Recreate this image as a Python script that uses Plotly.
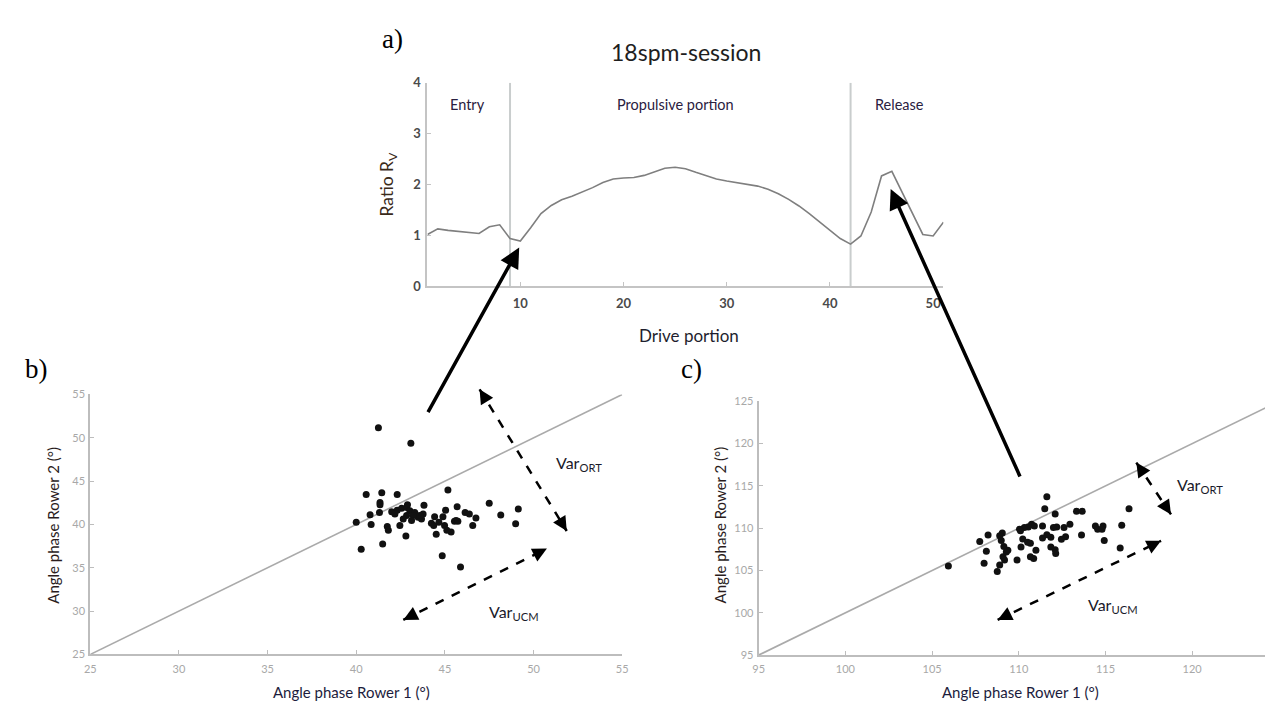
import math
import plotly.graph_objects as go

W, H = 1273, 702

# ---------------- data ----------------
# panel a: ratio R_V along the drive portion (18 spm session)
drive_portion = list(range(1, 52))
ratio_rv = [1.02, 1.13, 1.10, 1.08, 1.05, 1.04, 1.17, 1.21, 0.94, 0.89,
            1.15, 1.43, 1.59, 1.70, 1.77, 1.85, 1.94, 2.04, 2.11, 2.13,
            2.14, 2.18, 2.25, 2.32, 2.34, 2.31, 2.24, 2.17, 2.11, 2.07,
            2.04, 2.01, 1.97, 1.91, 1.82, 1.71, 1.58, 1.43, 1.27, 1.11,
            0.94, 0.83, 0.99, 1.46, 2.17, 2.26, 1.84, 1.42, 1.02, 0.99,
            1.26]
phase_bounds = [9, 42]
phase_names = ["Entry", "Propulsive portion", "Release"]
phase_label_x = [4.9, 25.0, 46.7]
phase_label_y = 3.57

# panel b: angle phase rower 1 vs rower 2 (first instant)
rower1_b = [41.25, 43.08, 40.56, 41.44, 42.31, 45.17, 41.34, 41.34, 42.89, 43.82,
            45.69, 47.50, 49.14, 40.78, 41.31, 42.00, 42.31, 42.56, 42.84, 43.02,
            43.30, 43.49, 43.68, 43.21, 42.84, 42.65, 42.46, 43.12, 44.42, 45.04,
            44.89, 44.66, 44.98, 45.35, 45.63, 45.54, 46.14, 46.38, 46.75, 46.57,
            48.15, 48.99, 40.00, 40.84, 41.75, 41.81, 42.80, 44.51, 41.49, 40.28,
            44.85, 45.88, 44.24, 44.37, 45.11, 45.73, 42.18, 43.77, 43.58]
rower2_b = [51.17, 49.36, 43.46, 43.65, 43.46, 43.98, 42.52, 42.26, 42.26, 42.22,
            42.03, 42.44, 41.77, 41.13, 41.39, 41.47, 41.65, 41.88, 41.95, 41.58,
            41.39, 40.83, 40.64, 41.02, 41.02, 40.64, 39.89, 40.45, 40.90, 41.65,
            40.90, 40.26, 39.89, 39.14, 40.45, 40.38, 41.39, 41.20, 40.75, 39.89,
            41.09, 40.08, 40.26, 40.00, 39.77, 39.32, 38.68, 38.87, 37.74, 37.14,
            36.39, 35.08, 40.15, 39.89, 39.32, 40.38, 41.20, 41.20, 41.02]

# panel c: angle phase rower 1 vs rower 2 (second instant)
rower1_c = [105.94, 111.62, 111.50, 112.10, 113.33, 113.66, 116.36, 115.94, 114.42, 114.55,
            114.86, 114.80, 114.93, 115.85, 113.62, 112.95, 112.61, 112.19, 112.00, 112.70,
            112.46, 111.85, 111.37, 111.62, 111.85, 112.10, 112.13, 110.74, 110.90, 110.55,
            110.32, 110.04, 110.10, 110.23, 110.51, 110.67, 110.13, 110.99, 110.67, 110.86,
            109.90, 109.37, 109.14, 108.99, 109.05, 108.90, 108.23, 107.75, 108.13, 108.00,
            109.18, 109.09, 108.90, 108.76, 109.28, 111.37]
rower2_c = [105.54, 113.73, 112.31, 111.69, 112.00, 112.00, 112.31, 110.35, 110.27, 109.88,
            110.27, 109.88, 108.54, 107.65, 109.19, 110.46, 110.08, 110.15, 110.08, 109.00,
            108.69, 108.92, 108.85, 109.23, 107.77, 107.46, 107.00, 110.46, 110.27, 110.15,
            110.08, 109.88, 109.69, 108.73, 108.35, 108.23, 107.77, 107.38, 106.62, 106.42,
            106.23, 107.38, 107.85, 108.54, 109.42, 109.12, 109.19, 108.42, 107.27, 105.85,
            106.23, 106.62, 105.65, 104.88, 107.19, 110.27]

range_a_x = [1, 51]
range_a_y = [0, 4]
range_b = [25, 55]
range_c = [95, 125]
ticks_a_x = [10, 20, 30, 40, 50]
ticks_a_y = [0, 1, 2, 3, 4]
ticks_b = [25, 30, 35, 40, 45, 50, 55]
ticks_c = [95, 100, 105, 110, 115, 120, 125]

# ---------------- helpers ----------------
def px(x, y):
    return x / W, 1 - y / H

FONT = "Lato"
fig = go.Figure()

# panel a
for b in phase_bounds:
    fig.add_trace(go.Scatter(x=[b, b], y=range_a_y, mode="lines",
                             line=dict(color="#c9cdcd", width=2),
                             xaxis="x", yaxis="y", hoverinfo="skip"))
fig.add_trace(go.Scatter(x=drive_portion, y=ratio_rv, mode="lines",
                         line=dict(color="#7f7f7f", width=1.6),
                         xaxis="x", yaxis="y"))

# panel b
fig.add_trace(go.Scatter(x=range_b, y=range_b, mode="lines",
                         line=dict(color="#aaaaaa", width=1.6),
                         xaxis="x2", yaxis="y2", hoverinfo="skip"))
fig.add_trace(go.Scatter(x=rower1_b, y=rower2_b, mode="markers",
                         marker=dict(color="#111111", size=7),
                         xaxis="x2", yaxis="y2"))

# panel c
fig.add_trace(go.Scatter(x=range_c, y=range_c, mode="lines",
                         line=dict(color="#aaaaaa", width=1.6),
                         xaxis="x3", yaxis="y3", hoverinfo="skip"))
fig.add_trace(go.Scatter(x=rower1_c, y=rower2_c, mode="markers",
                         marker=dict(color="#111111", size=7),
                         xaxis="x3", yaxis="y3"))

axis_common = dict(showgrid=False, zeroline=False, showline=True,
                   ticks="inside", ticklen=4, mirror=False)

a_tick = dict(family=FONT, size=13, color="#4a4a4a", weight="bold")
s_tick = dict(family=FONT, size=11, color="#a8a8a8")

fig.update_layout(
    width=W, height=H, autosize=False,
    margin=dict(l=0, r=0, t=0, b=0),
    paper_bgcolor="white", plot_bgcolor="white",
    showlegend=False,
    xaxis=dict(domain=[417.4 / W, 938.3 / W], range=range_a_x, tickvals=ticks_a_x,
               linecolor="#c4c4c4", linewidth=2, tickcolor="#c4c4c4",
               tickfont=a_tick, anchor="y", ticklabelstandoff=4, **axis_common),
    yaxis=dict(domain=[1 - 276.7 / H, 1 - 68.3 / H], range=range_a_y, tickvals=ticks_a_y,
               linecolor="#c4c4c4", linewidth=2, tickcolor="#c4c4c4",
               tickfont=a_tick, anchor="x", ticklabelstandoff=2, **axis_common),
    xaxis2=dict(domain=[77 / W, 614 / W], range=range_b, tickvals=ticks_b,
                linecolor="#bdbdbd", linewidth=2, tickcolor="#bdbdbd",
                tickfont=s_tick, anchor="y2", ticklabelstandoff=3, **axis_common),
    yaxis2=dict(domain=[1 - 653.3 / H, 1 - 387.3 / H], range=range_b, tickvals=ticks_b,
                linecolor="#bdbdbd", linewidth=2, tickcolor="#bdbdbd",
                tickfont=s_tick, anchor="x2", ticklabelstandoff=1, **axis_common),
    xaxis3=dict(domain=[751.8 / W, 1.0], range=[95, 124.78], tickvals=ticks_c,
                linecolor="#bdbdbd", linewidth=2, tickcolor="#bdbdbd",
                tickfont=s_tick, anchor="y3", ticklabelstandoff=3, **axis_common),
    yaxis3=dict(domain=[1 - 654 / H, 1 - 394.3 / H], range=range_c, tickvals=ticks_c,
                linecolor="#bdbdbd", linewidth=2, tickcolor="#bdbdbd",
                tickfont=s_tick, anchor="x3", ticklabelstandoff=1, **axis_common),
)

ann = []
shapes = []

def text(x, y, s, size, color="#222222", family=FONT, angle=0, xanchor="center", yanchor="middle"):
    xp, yp = px(x, y)
    ann.append(dict(x=xp, y=yp, xref="paper", yref="paper", text=s, showarrow=False,
                    font=dict(family=family, size=size, color=color), textangle=angle,
                    xanchor=xanchor, yanchor=yanchor))

# panel labels
SERIF = "Liberation Serif"
text(382, 24, "a)", 27, "#000000", SERIF)
text(23, 361, "b)", 27, "#000000", SERIF)
text(684, 361, "c)", 27, "#000000", SERIF)

# panel a texts
text(678, 37, "18spm-session", 23, "#1e1e1e")
text(378, 172, "Ratio R<sub>V</sub>", 17.5, "#3a2a1a", angle=-90)
text(681, 327, "Drive portion", 17, "#1e1e2e")
for name, lx in zip(phase_names, phase_label_x):
    ann.append(dict(x=lx, y=phase_label_y, xref="x", yref="y", text=name, showarrow=False,
                    font=dict(family=FONT, size=14.5, color="#2a2040")))

# scatter axis titles
text(341, 692, "Angle phase Rower 1 (°)", 15, "#1c1c3c")
text(1016, 692, "Angle phase Rower 1 (°)", 15, "#1c1c3c")
text(40, 521, "Angle phase Rower 2 (°)", 15, "#2a1c1c", angle=-90)
text(713, 521, "Angle phase Rower 2 (°)", 15, "#2a1c1c", angle=-90)

# Var labels
VAR_COLOR = "#1a1a2a"
text(545, 458, "Var<sub>ORT</sub>", 16, VAR_COLOR, xanchor="left")
text(477, 610, "Var<sub>UCM</sub>", 16, VAR_COLOR, xanchor="left")
text(1172, 480, "Var<sub>ORT</sub>", 16, VAR_COLOR, xanchor="left")
text(1082, 603, "Var<sub>UCM</sub>", 16, VAR_COLOR, xanchor="left")

# solid arrows from scatter panels to curve
def solid_arrow(x0, y0, x1, y1):
    xp, yp = px(x1, y1)
    ann.append(dict(x=xp, y=yp, xref="paper", yref="paper", ax=x0 - x1, ay=y0 - y1,
                    axref="pixel", ayref="pixel", text="", showarrow=True,
                    arrowhead=2, arrowsize=1.15, arrowwidth=3.5, arrowcolor="#000000",
                    standoff=0))

solid_arrow(418, 403, 510, 237)
solid_arrow(1015, 466, 885, 177)

# dashed double arrows
def head(xt, yt, xf, yf):
    dx, dy = xf - xt, yf - yt
    L = math.hypot(dx, dy)
    k = 12 / L
    xp, yp = px(xt, yt)
    ann.append(dict(x=xp, y=yp, xref="paper", yref="paper", ax=dx * k, ay=dy * k,
                    axref="pixel", ayref="pixel", text="", showarrow=True,
                    arrowhead=2, arrowsize=1.15, arrowwidth=2.5, arrowcolor="#000000",
                    standoff=0))

def dashed_double(x0, y0, x1, y1):
    a0 = px(x0, y0)
    a1 = px(x1, y1)
    shapes.append(dict(type="line", xref="paper", yref="paper",
                       x0=a0[0], y0=a0[1], x1=a1[0], y1=a1[1],
                       line=dict(color="#000000", width=2.5, dash="dash")))
    head(x0, y0, x1, y1)
    head(x1, y1, x0, y0)

dashed_double(470, 382, 558, 527)
dashed_double(393, 618, 538, 545)
dashed_double(1133, 457, 1168, 510)
dashed_double(993, 618, 1158, 537)

fig.update_layout(annotations=ann, shapes=shapes)

fig.write_html("out.html", config={"displayModeBar": False})
